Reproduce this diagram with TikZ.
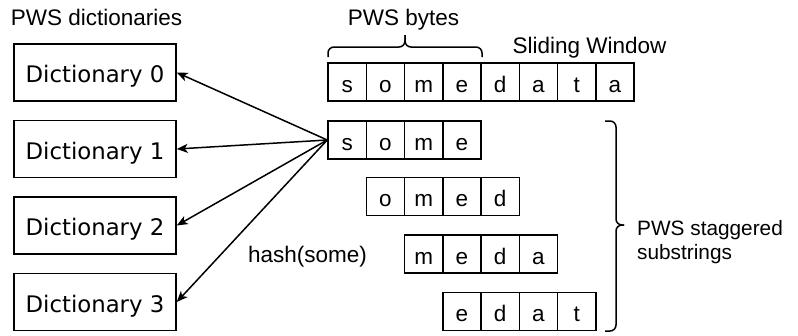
\documentclass[tikz,border=0pt]{standalone}
\usepackage{fontspec}
\setmainfont{Liberation Sans}
\newfontfamily\dictfont{DejaVu Sans}
\usetikzlibrary{arrows.meta}

\tikzset{
  cell/.style={draw, line width=1.5pt, minimum width=38.25pt, minimum height=38pt,
    inner sep=0pt, text height=20.6pt, text depth=0pt,
    font=\fontsize{22.5}{26}\selectfont},
  dict/.style={draw, line width=1.5pt, minimum width=162pt, minimum height=57pt,
    inner sep=0pt, text height=20.4pt, text depth=0pt,
    font=\dictfont\fontsize{22.8}{27}\selectfont},
  label/.style={inner sep=0pt, font=\fontsize{22.5}{26}\selectfont},
  hashlink/.style={line width=1.5pt, -{Stealth[length=11pt, width=9pt, inset=3pt]}},
  brace/.style={line width=1.5pt, rounded corners=6pt}
}

\begin{document}
\begin{tikzpicture}[x=1pt, y=-1pt]
  \useasboundingbox (0,0) rectangle (798,335);

  % titles
  \node[label, anchor=base] (dtitle) at (96.5,25) {PWS dictionaries};
  \node[label, anchor=base] (btitle) at (403.5,25) {PWS bytes};
  \node[label, anchor=base] (wtitle) at (589.5,53) {Sliding Window};
  \node[label, anchor=base] (hash) at (307.5,262) {hash(some)};
  \node[label, anchor=west, align=left, font=\fontsize{20.8}{24.5}\selectfont]
    (stag) at (637,242) {PWS staggered\\substrings};

  % dictionaries
  \foreach \i/\y in {0/72.5, 1/149, 2/225.5, 3/302}
    \node[dict] (d\i) at (95,\y) {Dictionary \i};

  % sliding window
  \foreach \ch [count=\i from 0] in {s,o,m,e,d,a,t,a}
    \node[cell] (w\i) at ({347.125+38.25*\i},82) {\ch};

  % staggered substrings
  \foreach \ch [count=\i from 0] in {s,o,m,e}
    \node[cell] (a\i) at ({347.125+38.25*\i},140) {\ch};
  \foreach \ch [count=\i from 0] in {o,m,e,d}
    \node[cell] (b\i) at ({385.375+38.25*\i},196.5) {\ch};
  \foreach \ch [count=\i from 0] in {m,e,d,a}
    \node[cell] (c\i) at ({423.625+38.25*\i},254) {\ch};
  \foreach \ch [count=\i from 0] in {e,d,a,t}
    \node[cell] (e\i) at ({461.875+38.25*\i},311.5) {\ch};

  % hash of the first substring into each dictionary
  \foreach \i in {0,1,2,3}
    \draw[hashlink] (a0.west) -- (d\i.east);

  % brace over the bytes of one substring
  \coordinate (btip) at (405,35);
  \draw[brace] (btip) -- (405,47) -- (328,47) -- (328,57);
  \draw[brace] (btip) -- (405,47) -- (482,47) -- (482,57);

  % brace grouping the staggered substrings
  \coordinate (stip) at (624,225);
  \draw[brace] (stip) -- (616,225) -- (616,121) -- (605,121);
  \draw[brace] (stip) -- (616,225) -- (616,331) -- (605,331);
\end{tikzpicture}
\end{document}
